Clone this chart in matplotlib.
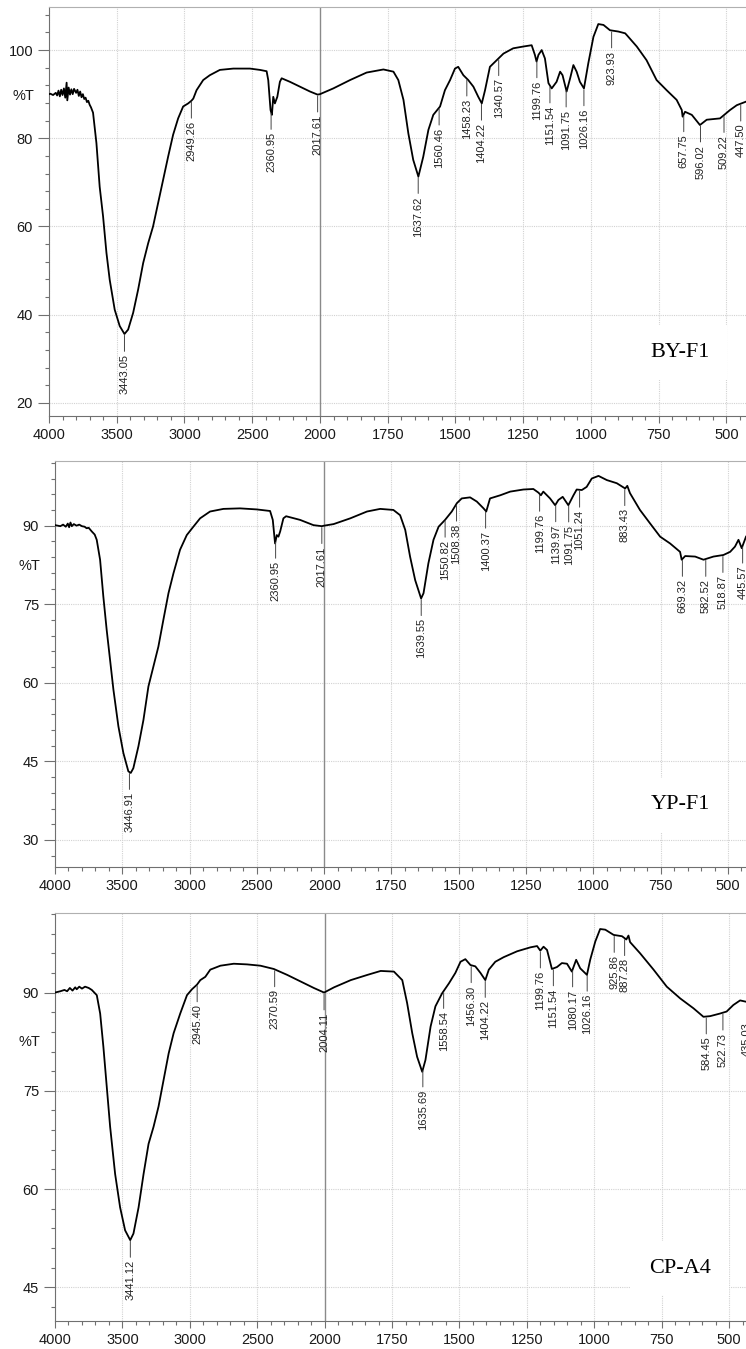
import numpy as np
import matplotlib.pyplot as plt

plt.rcParams['font.family'] = ['Liberation Sans', 'DejaVu Sans']

# ---- BY-F1 spectrum (wavenumber, %T) ----
by_wn = [4000, 3990, 3970, 3950, 3940, 3930, 3920, 3910, 3900, 3890, 3880, 3870, 3865,
         3855, 3845, 3835, 3825, 3815, 3800, 3790, 3780, 3770, 3760, 3750, 3740, 3730,
         3720, 3710, 3700, 3690, 3675, 3663, 3650, 3626, 3601, 3576, 3552, 3515, 3478,
         3443, 3416, 3379, 3342, 3305, 3268, 3232, 3195, 3158, 3121, 3084, 3047, 3010,
         2973, 2949, 2935, 2911, 2862, 2813, 2739, 2640, 2517, 2443, 2394, 2382, 2365,
         2355, 2345, 2333, 2315, 2296, 2283, 2222, 2148, 2074, 2018, 2000,
         1951, 1889, 1828, 1766, 1729, 1711, 1692, 1674, 1656, 1637, 1619, 1600, 1582,
         1557, 1539, 1520, 1502, 1490, 1471, 1453, 1434, 1416, 1403, 1391, 1373, 1348,
         1323, 1287, 1250, 1219, 1207, 1201, 1194, 1182, 1170, 1157, 1145, 1127, 1114,
         1105, 1090, 1077, 1065, 1053, 1041, 1026, 1010, 991, 973, 954, 930, 899, 874,
         868, 831, 795, 758, 721, 684, 665, 662, 653, 628, 598, 573, 524, 487, 462, 428]
by_t = [90.0, 90.1, 89.8, 90.3, 89.7, 90.8, 89.5, 91.0, 89.8, 91.3, 89.2, 92.6, 88.6,
        91.5, 89.9, 91.1, 90.0, 91.2, 90.3, 91.0, 89.6, 90.6, 89.3, 90.0, 88.9, 89.2,
        88.2, 88.5, 87.6, 87.0, 85.8, 82.5, 78.9, 69.0, 62.3, 54.0, 47.9, 41.1, 37.4,
        35.6, 36.6, 40.4, 45.7, 51.7, 56.2, 60.0, 65.3, 70.6, 75.8, 80.8, 84.5, 87.2,
        87.9, 88.5, 89.0, 90.9, 93.2, 94.3, 95.5, 95.8, 95.8, 95.5, 95.2, 93.2, 86.4,
        85.3, 89.4, 87.9, 89.4, 92.8, 93.6, 92.8, 91.7, 90.6, 89.9, 90.0,
        91.3, 93.2, 94.9, 95.6, 95.1, 93.2, 88.7, 81.1, 75.1, 71.3, 75.8, 81.9, 85.3,
        87.2, 90.9, 93.2, 95.8, 96.2, 94.3, 93.2, 91.7, 89.4, 87.9, 90.9, 96.2, 97.7,
        99.2, 100.4, 100.8, 101.1, 98.9, 97.4, 98.9, 100.0, 98.1, 92.5, 91.3, 92.8, 95.1,
        94.3, 90.6, 93.6, 96.6, 95.1, 92.8, 91.3, 97.0, 103.0, 105.9, 105.7, 104.5, 104.2, 103.8,
        103.4, 100.8, 97.7, 93.2, 90.9, 88.7, 86.4, 84.9, 86.0, 85.3, 83.0, 84.2, 84.5, 86.4, 87.5, 88.3]
by_peaks = [3443.05, 2949.26, 2360.95, 2017.61, 1637.62, 1560.46, 1458.23, 1404.22,
            1340.57, 1199.76, 1151.54, 1091.75, 1026.16, 923.93, 657.75, 596.02,
            509.22, 447.50]

# ---- YP-F1 spectrum ----
yp_wn = [4000, 3980, 3960, 3940, 3920, 3905, 3895, 3885, 3875, 3860, 3840, 3820, 3800,
         3780, 3765, 3750, 3727, 3705, 3690, 3665, 3641, 3616, 3591, 3566, 3529, 3492,
         3455, 3437, 3418, 3380, 3343, 3306, 3269, 3232, 3195, 3157, 3120, 3071, 3021,
         2972, 2922, 2848, 2749, 2625, 2501, 2402, 2382, 2365, 2352, 2340, 2327, 2303,
         2283, 2179, 2080, 2018, 2000,
         1965, 1903, 1841, 1792, 1743, 1718, 1699, 1681, 1662, 1640, 1631, 1613, 1594,
         1575, 1551, 1526, 1507, 1489, 1458, 1433, 1408, 1398, 1384, 1346, 1309, 1260,
         1223, 1204, 1195, 1186, 1161, 1142, 1130, 1114, 1093, 1074, 1062, 1043, 1025,
         1006, 981, 950, 913, 882, 874, 864, 827, 789, 752, 715, 678, 672, 659, 622,
         591, 554, 517, 492, 474, 461, 449, 433]
yp_t = [90.1, 90.0, 89.9, 90.2, 89.8, 90.4, 89.7, 90.6, 89.9, 90.3, 90.0, 90.2, 89.9,
        89.8, 89.5, 89.6, 88.9, 88.3, 87.3, 83.5, 76.5, 70.1, 64.4, 58.7, 51.7, 46.6,
        43.1, 42.8, 43.7, 47.9, 52.9, 59.3, 63.1, 66.9, 72.0, 77.1, 80.9, 85.4, 88.2,
        89.8, 91.4, 92.7, 93.2, 93.3, 93.1, 92.8, 91.1, 86.6, 88.2, 87.9, 88.9, 91.4,
        91.8, 91.1, 90.1, 89.9, 90.0,
        90.3, 91.4, 92.7, 93.2, 93.0, 92.0, 89.2, 84.1, 79.6, 76.1, 77.1, 82.8, 87.3,
        89.8, 91.1, 92.7, 94.3, 95.2, 95.4, 94.6, 93.3, 92.7, 95.2, 95.8, 96.5, 96.9,
        97.0, 96.3, 95.8, 96.5, 95.2, 93.9, 94.9, 95.5, 93.9, 95.8, 96.9, 96.8, 97.4,
        99.0, 99.5, 98.7, 98.1, 97.1, 97.6, 96.2, 93.0, 90.4, 87.9, 86.6, 85.0, 83.5, 84.2, 84.1,
        83.5, 84.1, 84.4, 85.0, 86.0, 87.3, 85.7, 87.9]
yp_peaks = [3446.91, 2360.95, 2017.61, 1639.55, 1550.82, 1508.38, 1400.37, 1199.76,
            1139.97, 1091.75, 1051.24, 883.43, 669.32, 582.52, 518.87, 445.57]

# ---- CP-A4 spectrum ----
cp_wn = [4000, 3960, 3930, 3910, 3890, 3870, 3850, 3839, 3820, 3800, 3777, 3750, 3727,
         3690, 3665, 3641, 3616, 3591, 3554, 3517, 3480, 3442, 3418, 3380, 3343, 3306,
         3269, 3232, 3195, 3157, 3120, 3071, 3021, 2984, 2947, 2922, 2885, 2848, 2773,
         2674, 2575, 2476, 2377, 2278, 2179, 2080, 2004,
         1965, 1903, 1841, 1792, 1743, 1712, 1694, 1675, 1657, 1638, 1626, 1607, 1589,
         1564, 1539, 1515, 1496, 1478, 1459, 1441, 1422, 1404, 1391, 1367, 1336, 1286,
         1237, 1212, 1200, 1188, 1175, 1157, 1138, 1120, 1101, 1083, 1067, 1052, 1027,
         1015, 996, 978, 959, 928, 897, 881, 873, 867, 830, 780, 731, 681, 632, 595,
         570, 533, 509, 484, 459, 437]
cp_t = [90.0, 90.2, 90.4, 90.2, 90.7, 90.3, 90.8, 90.5, 90.9, 90.6, 90.9, 90.7, 90.4,
        89.6, 86.8, 81.7, 75.6, 69.5, 62.3, 57.2, 53.7, 52.2, 53.2, 57.2, 62.3, 66.9,
        69.5, 72.6, 76.6, 80.7, 83.8, 86.8, 89.6, 90.5, 91.2, 91.9, 92.4, 93.5, 94.1,
        94.4, 94.3, 94.1, 93.6, 92.7, 91.7, 90.7, 90.0,
        90.8, 91.9, 92.7, 93.3, 93.2, 91.9, 88.4, 83.8, 80.2, 77.9, 79.7, 84.8, 87.9,
        89.9, 91.4, 93.0, 94.7, 95.1, 94.2, 94.0, 93.0, 91.9, 93.5, 94.7, 95.4, 96.3,
        96.9, 97.1, 96.4, 97.0, 96.5, 93.6, 93.9, 94.5, 94.4, 93.2, 95.0, 93.7, 92.7,
        95.0, 97.8, 99.7, 99.6, 98.8, 98.6, 98.1, 98.7, 97.7, 96.0, 93.5, 90.9, 89.1, 87.6, 86.3,
        86.4, 86.8, 87.1, 88.1, 88.8, 88.6]
cp_peaks = [3441.12, 2945.40, 2370.59, 2004.11, 1635.69, 1558.54, 1456.30, 1404.22,
            1199.76, 1151.54, 1080.17, 1026.16, 925.86, 887.28, 584.45, 522.73, 435.03]

x_major = [4000, 3500, 3000, 2500, 2000, 1750, 1500, 1250, 1000, 750, 500]

W, H = 746, 1349
fig = plt.figure(figsize=(W / 100, H / 100), dpi=100)


def fwd(x):
    x = np.asarray(x, dtype=float)
    return np.where(x > 2000, 2000 + (x - 2000) / 2, x)


def inv(g):
    g = np.asarray(g, dtype=float)
    return np.where(g > 2000, 2000 + (g - 2000) * 2, g)


def panel(box, wn, t, peaks, ylim, y_major, y_step, name, name_pos, pct_pos):
    left, top, right, bottom = box
    ax = fig.add_axes([left / W, 1 - bottom / H, (right - left) / W, (bottom - top) / H])
    ax.set_xscale('function', functions=(fwd, inv))
    ax.set_xlim(4000, 400)
    ax.set_ylim(*ylim)

    ax.set_xticks(x_major)
    ax.set_xticklabels([str(v) for v in x_major])
    minors = [v for v in list(range(2100, 4000, 100)) + list(range(450, 2000, 50))
              if v not in x_major]
    ax.set_xticks(minors, minor=True)
    ax.set_yticks(y_major)
    ax.set_yticklabels([str(v) for v in y_major])
    ym = np.arange(y_major[0] - y_step * 5, ylim[1], y_step)
    ax.set_yticks([v for v in ym if v > ylim[0] and v not in y_major], minor=True)

    ax.tick_params(axis='both', which='both', direction='out', color='#707070',
                   labelcolor='#1a1a1a', labelsize=10.5, width=0.8)
    ax.tick_params(axis='y', which='major', length=8, pad=3.5)
    ax.tick_params(axis='y', which='minor', length=3.2)
    ax.tick_params(axis='x', which='major', length=5, pad=3.5)
    ax.tick_params(axis='x', which='minor', length=3)

    # dotted grid, solid line at the 2000 scale break
    for v in x_major:
        if v != 2000:
            ax.axvline(v, color='#d2d2d2', lw=0.8, ls=(0, (1, 1)), zorder=0)
    for v in y_major:
        ax.axhline(v, color='#d2d2d2', lw=0.8, ls=(0, (1, 1)), zorder=0)
    ax.axvline(2000, color='#8a8a8a', lw=1.0, zorder=1)

    ax.spines['left'].set_color('#707070')
    ax.spines['bottom'].set_color('#707070')
    ax.spines['top'].set_color('#b0b0b0')
    ax.spines['right'].set_visible(False)

    ax.plot(wn, t, color='black', lw=1.3, zorder=3)

    wn_a = np.array(wn)[::-1]
    t_a = np.array(t)[::-1]
    for p in peaks:
        yv = np.interp(p, wn_a, t_a)
        ax.annotate(f"{p:.2f}", xy=(p, yv), xytext=(0, -14.5), textcoords='offset points',
                    rotation=90, ha='center', va='top', fontsize=8, color='#222222',
                    annotation_clip=False,
                    arrowprops=dict(arrowstyle='-', color='#444444', lw=0.7,
                                    shrinkA=0, shrinkB=1))

    ax.text(name_pos[0], name_pos[1], name, transform=ax.transAxes, ha='center',
            va='center', fontsize=16, family='Liberation Serif', color='black', zorder=5,
            bbox=dict(boxstyle='square,pad=0.8', fc='white', ec='none'))
    fig.text(pct_pos[0] / W, 1 - pct_pos[1] / H, '%T', ha='center', va='center',
             fontsize=10.5, color='#1a1a1a')
    return ax


panel((49, 7.3, 753.6, 416), by_wn, by_t, by_peaks, (17, 109.7), [20, 40, 60, 80, 100], 4,
      'BY-F1', (0.8955, 0.155), (23, 96))
panel((55, 460.7, 754.9, 866.7), yp_wn, yp_t, yp_peaks, (24.9, 102.4), [30, 45, 60, 75, 90], 3,
      'YP-F1', (0.893, 0.152), (29, 566))
panel((55, 913.3, 756, 1320.7), cp_wn, cp_t, cp_peaks, (39.9, 102.1), [45, 60, 75, 90], 3,
      'CP-A4', (0.8916, 0.129), (29, 1042))

fig.savefig('out.png', dpi=100)
